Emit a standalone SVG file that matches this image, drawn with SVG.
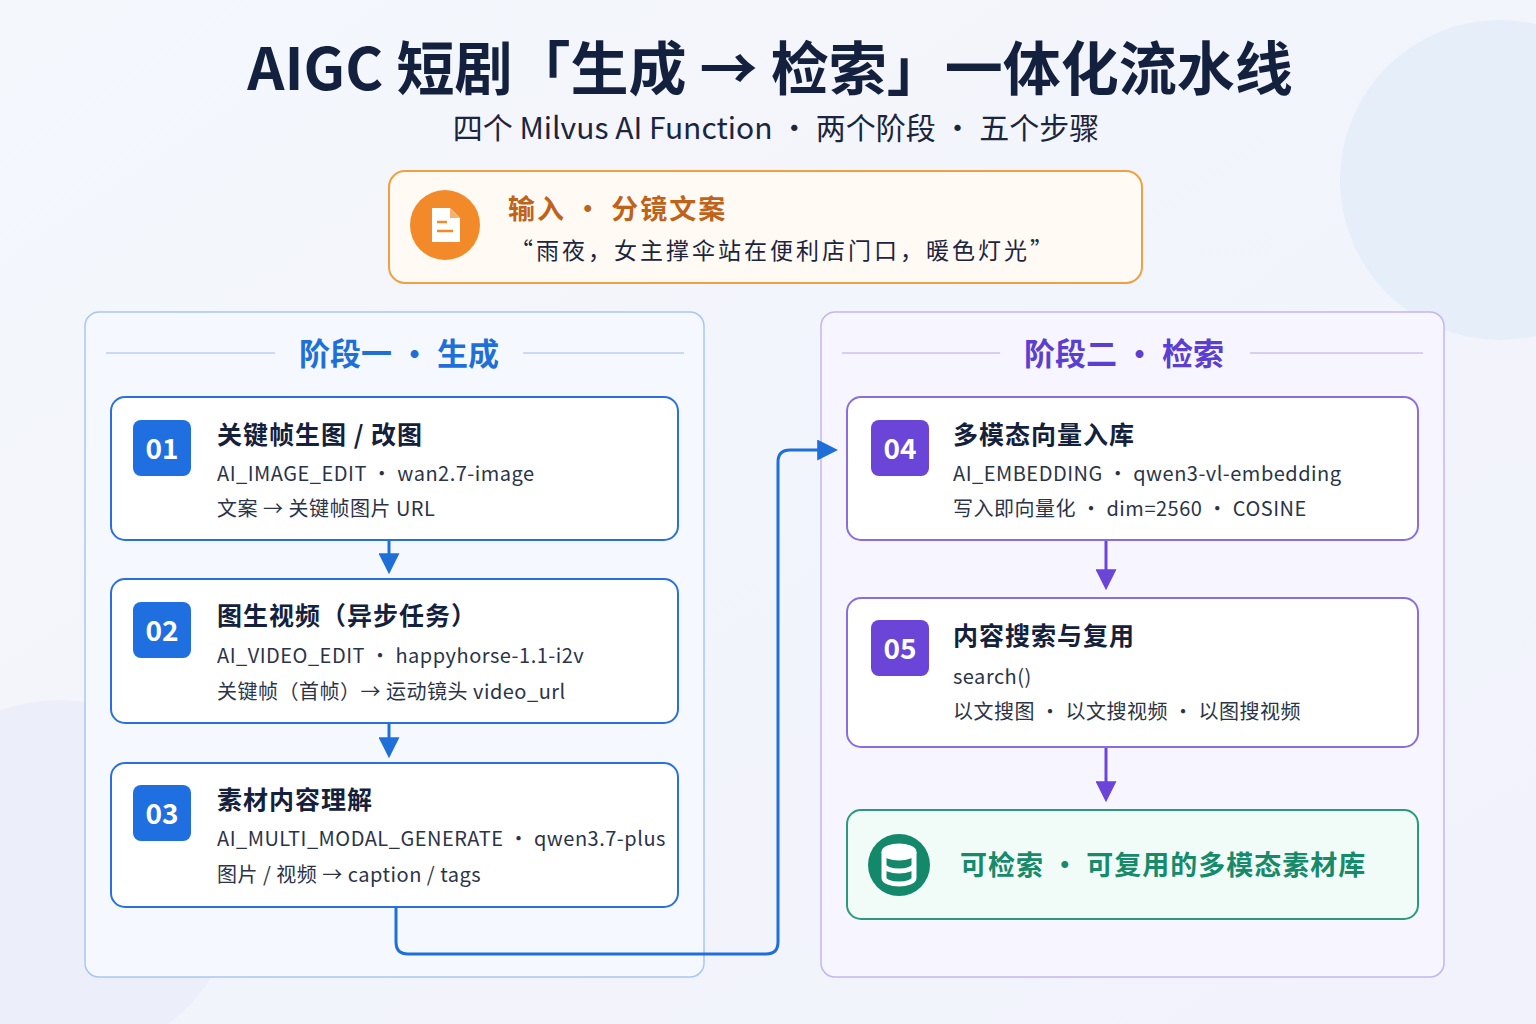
<svg xmlns="http://www.w3.org/2000/svg" width="1536" height="1024" viewBox="0 0 1536 1024">
<defs>
<style>
text{font-family:"Noto Sans CJK SC","Noto Sans",sans-serif}
.card{fill:#fff;stroke-width:2}
.b{stroke:#2a6fe0}.p{stroke:#8a6ee0}
.t{font-size:25px;font-weight:700;fill:#14213d;letter-spacing:1px}
.s{font-size:20px;fill:#2b3447;letter-spacing:0.5px}
.num{font-size:28px;font-weight:700;fill:#fff}
</style>
<marker id="ab" viewBox="0 0 10 10" refX="8" refY="5" markerWidth="7" markerHeight="7" orient="auto"><path d="M0,0L10,5L0,10z" fill="#1f6fd8"/></marker>
<marker id="ap" viewBox="0 0 10 10" refX="8" refY="5" markerWidth="7" markerHeight="7" orient="auto"><path d="M0,0L10,5L0,10z" fill="#6a45d8"/></marker>
<linearGradient id="bg" x1="0" y1="0" x2="1" y2="1"><stop offset="0" stop-color="#f4f7fc"/><stop offset="1" stop-color="#f1f2fb"/></linearGradient>
</defs>
<rect width="1536" height="1024" fill="url(#bg)"/>
<circle cx="1500" cy="180" r="160" fill="#e6eefa"/>
<circle cx="60" cy="880" r="180" fill="#eceefa"/>
<text x="770" y="90" text-anchor="middle" font-size="58" font-weight="700" fill="#13213f">AIGC 短剧「生成 → 检索」一体化流水线</text>
<text x="776" y="139" text-anchor="middle" font-size="30" fill="#1b2540">四个 Milvus AI Function · 两个阶段 · 五个步骤</text>
<g id="input">
<rect x="389" y="171" width="753" height="112" rx="16" fill="#fffaf4" stroke="#f0a040" stroke-width="2"/>
<circle cx="445" cy="225" r="35" fill="#f28a2a"/>
<path d="M432,208h18l10,10v24h-28z" fill="#fff"/><path d="M450,208v10h10" fill="#f7b070"/>
<path d="M437,222h10M437,231h16" stroke="#f28a2a" stroke-width="2.5"/>
<text x="508" y="219" font-size="27" font-weight="700" fill="#c0631a" letter-spacing="2">输入 · 分镜文案</text>
<text x="510" y="259" font-size="23" fill="#1b2540" letter-spacing="3">“雨夜，女主撑伞站在便利店门口，暖色灯光”</text>
</g>
<g id="stage1">
<rect x="85" y="312" width="619" height="665" rx="14" fill="#f5f9ff" stroke="#a9c6f2" stroke-width="1.5"/>
<line x1="106" y1="353" x2="275" y2="353" stroke="#9fbbe8"/><line x1="523" y1="353" x2="684" y2="353" stroke="#9fbbe8"/>
<text x="399" y="365" text-anchor="middle" font-size="31" font-weight="700" fill="#1f6fd8">阶段一 · 生成</text>
</g>
<g id="stage2">
<rect x="821" y="312" width="623" height="665" rx="14" fill="#f7f5ff" stroke="#c4b5ef" stroke-width="1.5"/>
<line x1="842" y1="353" x2="1000" y2="353" stroke="#b8a8e6"/><line x1="1250" y1="353" x2="1423" y2="353" stroke="#b8a8e6"/>
<text x="1124" y="365" text-anchor="middle" font-size="31" font-weight="700" fill="#5b3fd0">阶段二 · 检索</text>
</g>
<g id="n01"><rect class="card b" x="111" y="397" width="567" height="143" rx="14"/>
<rect x="133" y="420" width="58" height="56" rx="8" fill="#1f6fe0"/><text class="num" x="162" y="459" text-anchor="middle">01</text>
<text class="t" x="217" y="444">关键帧生图 / 改图</text>
<text class="s" x="217" y="481">AI_IMAGE_EDIT · wan2.7-image</text>
<text class="s" x="217" y="516">文案 → 关键帧图片 URL</text></g>
<g id="n02"><rect class="card b" x="111" y="579" width="567" height="144" rx="14"/>
<rect x="133" y="602" width="58" height="56" rx="8" fill="#1f6fe0"/><text class="num" x="162" y="641" text-anchor="middle">02</text>
<text class="t" x="217" y="625">图生视频（异步任务）</text>
<text class="s" x="217" y="663">AI_VIDEO_EDIT · happyhorse-1.1-i2v</text>
<text class="s" x="217" y="699">关键帧（首帧）→ 运动镜头 video_url</text></g>
<g id="n03"><rect class="card b" x="111" y="763" width="567" height="144" rx="14"/>
<rect x="133" y="785" width="58" height="56" rx="8" fill="#1f6fe0"/><text class="num" x="162" y="824" text-anchor="middle">03</text>
<text class="t" x="217" y="809">素材内容理解</text>
<text class="s" x="217" y="846">AI_MULTI_MODAL_GENERATE · qwen3.7-plus</text>
<text class="s" x="217" y="882">图片 / 视频 → caption / tags</text></g>
<g id="n04"><rect class="card p" x="847" y="397" width="571" height="143" rx="14"/>
<rect x="871" y="420" width="58" height="56" rx="8" fill="#6a45d8"/><text class="num" x="900" y="459" text-anchor="middle">04</text>
<text class="t" x="953" y="444">多模态向量入库</text>
<text class="s" x="953" y="481">AI_EMBEDDING · qwen3-vl-embedding</text>
<text class="s" x="953" y="516">写入即向量化 · dim=2560 · COSINE</text></g>
<g id="n05"><rect class="card p" x="847" y="598" width="571" height="149" rx="14"/>
<rect x="871" y="620" width="58" height="56" rx="8" fill="#6a45d8"/><text class="num" x="900" y="659" text-anchor="middle">05</text>
<text class="t" x="953" y="645">内容搜索与复用</text>
<text class="s" x="953" y="684">search()</text>
<text class="s" x="953" y="719">以文搜图 · 以文搜视频 · 以图搜视频</text></g>
<g id="out"><rect x="847" y="810" width="571" height="109" rx="14" fill="#f1fbf8" stroke="#2a9a78" stroke-width="2"/>
<circle cx="899" cy="865" r="31" fill="#13886a"/>
<g fill="none" stroke="#fff" stroke-width="5"><ellipse cx="899" cy="852" rx="15" ry="6" fill="#fff"/><path d="M884,852v26a15,6 0 0 0 30,0v-26M884,865a15,6 0 0 0 30,0"/></g>
<text x="960" y="875" font-size="27" font-weight="700" fill="#178a6a" letter-spacing="1">可检索 · 可复用的多模态素材库</text></g>
<g id="connectors" fill="none" stroke-width="3">
<path d="M389,541V570" stroke="#1f6fd8" marker-end="url(#ab)"/>
<path d="M389,724V754" stroke="#1f6fd8" marker-end="url(#ab)"/>
<path d="M396,908V942q0,12 12,12H766q12,0 12,-12V462q0,-12 12,-12H834" stroke="#1f6fd8" marker-end="url(#ab)"/>
<path d="M1106,541V586" stroke="#6a45d8" marker-end="url(#ap)"/>
<path d="M1106,748V798" stroke="#6a45d8" marker-end="url(#ap)"/>
</g>
</svg>
